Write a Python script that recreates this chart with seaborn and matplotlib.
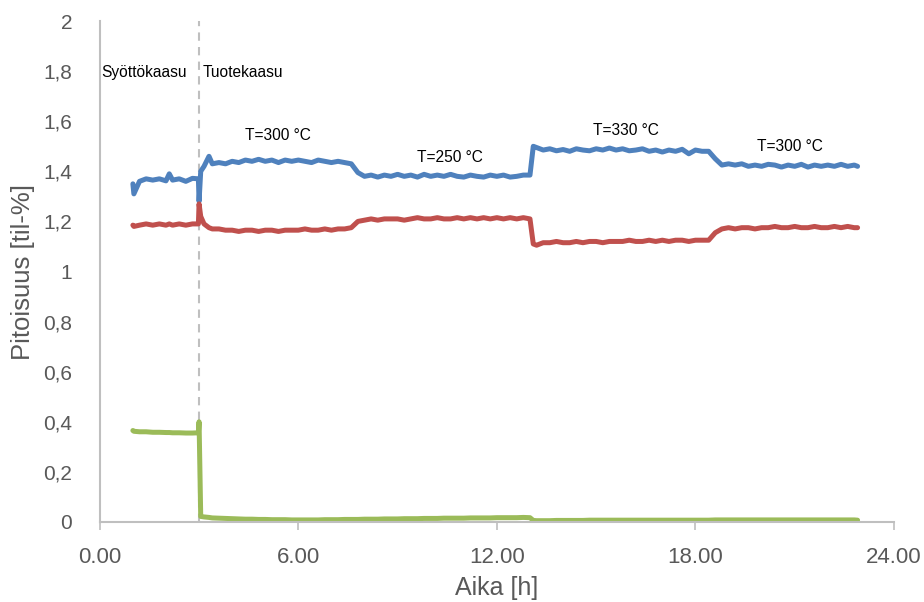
import matplotlib
matplotlib.use('Agg')
import matplotlib.pyplot as plt
import seaborn as sns
import pandas as pd

# Measurement times [h]
t = [1.0, 1.03,
     1.2, 1.4, 1.6, 1.8, 2.0, 2.1, 2.2, 2.4, 2.6, 2.8,
     2.98, 3.0, 3.05, 3.15, 3.3,
     3.4, 3.6, 3.8, 4.0, 4.2, 4.4, 4.6, 4.8, 5.0, 5.2, 5.4, 5.6, 5.8, 6.0, 6.2, 6.4, 6.6, 6.8, 7.0, 7.2, 7.4,
     7.6, 7.8, 8.0, 8.2, 8.4, 8.6, 8.8, 9.0, 9.2, 9.4, 9.6, 9.8, 10.0, 10.2, 10.4, 10.6, 10.8, 11.0, 11.2, 11.4,
     11.6, 11.8, 12.0, 12.2, 12.4, 12.6, 12.8, 13.0,
     13.1, 13.2, 13.4, 13.6, 13.8, 14.0, 14.2, 14.4, 14.6, 14.8, 15.0, 15.2, 15.4, 15.6, 15.8, 16.0, 16.2, 16.4,
     16.6, 16.8, 17.0, 17.2, 17.4, 17.6, 17.8, 18.0, 18.2, 18.4,
     18.6, 18.8, 19.0, 19.2, 19.4, 19.6, 19.8, 20.0, 20.2, 20.4, 20.6, 20.8, 21.0, 21.2, 21.4, 21.6, 21.8, 22.0,
     22.2, 22.4, 22.6, 22.8, 22.9]

blue = [1.35, 1.31,
        1.36, 1.37, 1.365, 1.37, 1.362, 1.39, 1.365, 1.37, 1.36, 1.372,
        1.37, 1.28, 1.40, 1.42, 1.46,
        1.43, 1.435, 1.43, 1.44, 1.435, 1.445, 1.44, 1.448, 1.44, 1.445, 1.435, 1.445, 1.44, 1.445, 1.44, 1.435,
        1.445, 1.44, 1.435, 1.44, 1.435,
        1.43, 1.395, 1.38, 1.385, 1.377, 1.385, 1.38, 1.388, 1.38, 1.385, 1.377, 1.388, 1.38, 1.385, 1.38, 1.388,
        1.38, 1.377, 1.385, 1.38, 1.377, 1.385, 1.38, 1.385, 1.377, 1.38, 1.385, 1.385,
        1.50, 1.495, 1.485, 1.49, 1.482, 1.487, 1.48, 1.49, 1.485, 1.482, 1.49, 1.485, 1.493, 1.485, 1.49, 1.482,
        1.485, 1.49, 1.48, 1.485, 1.477, 1.485, 1.48, 1.488, 1.47, 1.485, 1.48, 1.48,
        1.45, 1.425, 1.43, 1.425, 1.43, 1.42, 1.425, 1.42, 1.428, 1.425, 1.417, 1.425, 1.42, 1.428, 1.417, 1.425,
        1.42, 1.425, 1.42, 1.428, 1.42, 1.425, 1.42]

red = [1.185, 1.18,
       1.185, 1.19, 1.185, 1.19, 1.185, 1.19, 1.185, 1.19, 1.185, 1.19,
       1.19, 1.27, 1.22, 1.19, 1.175,
       1.17, 1.17, 1.165, 1.165, 1.16, 1.165, 1.165, 1.16, 1.165, 1.165, 1.16, 1.165, 1.165, 1.165, 1.17,
       1.165, 1.165, 1.17, 1.165, 1.17, 1.17,
       1.175, 1.20, 1.205, 1.21, 1.205, 1.21, 1.21, 1.21, 1.205, 1.21, 1.215, 1.21, 1.21, 1.215, 1.21, 1.21,
       1.215, 1.21, 1.215, 1.21, 1.215, 1.21, 1.215, 1.21, 1.215, 1.21, 1.215, 1.21,
       1.11, 1.105, 1.115, 1.115, 1.12, 1.115, 1.115, 1.12, 1.115, 1.12, 1.12, 1.115, 1.12, 1.12, 1.12, 1.125,
       1.12, 1.12, 1.125, 1.12, 1.125, 1.12, 1.125, 1.125, 1.12, 1.125, 1.125, 1.125,
       1.155, 1.17, 1.175, 1.17, 1.175, 1.175, 1.17, 1.175, 1.175, 1.18, 1.175, 1.175, 1.18, 1.175, 1.175,
       1.18, 1.175, 1.175, 1.18, 1.175, 1.18, 1.175, 1.175]

green = [0.365, 0.362,
         0.36, 0.36, 0.358, 0.358, 0.357, 0.357, 0.356, 0.356, 0.355, 0.355,
         0.356, 0.40, 0.022, 0.02, 0.018,
         0.016, 0.015, 0.014, 0.013, 0.012, 0.011, 0.011, 0.010, 0.010, 0.009, 0.009, 0.009, 0.008, 0.008,
         0.008, 0.008, 0.008, 0.009, 0.009, 0.009, 0.010,
         0.010, 0.010, 0.011, 0.011, 0.011, 0.012, 0.012, 0.012, 0.013, 0.013, 0.013, 0.014, 0.014, 0.014,
         0.015, 0.015, 0.015, 0.015, 0.016, 0.016, 0.016, 0.016, 0.017, 0.017, 0.017, 0.017, 0.018, 0.017,
         0.006, 0.005, 0.005, 0.005, 0.006, 0.006, 0.006, 0.006, 0.006, 0.007, 0.007, 0.007, 0.007, 0.007,
         0.007, 0.007, 0.007, 0.007, 0.007, 0.007, 0.007, 0.007, 0.007, 0.007, 0.007, 0.007, 0.007, 0.007,
         0.008, 0.008, 0.008, 0.008, 0.008, 0.008, 0.008, 0.008, 0.008, 0.008, 0.008, 0.008, 0.008, 0.008,
         0.008, 0.008, 0.008, 0.008, 0.008, 0.008, 0.008, 0.008, 0.007]

x_ticks = [0, 6, 12, 18, 24]
x_tick_labels = ['0.00', '6.00', '12.00', '18.00', '24.00']
y_ticks = [0, 0.2, 0.4, 0.6, 0.8, 1.0, 1.2, 1.4, 1.6, 1.8, 2.0]
y_tick_labels = ['0', '0,2', '0,4', '0,6', '0,8', '1', '1,2', '1,4', '1,6', '1,8', '2']

feed_switch = 3.0
phase_labels = ['Syöttökaasu', 'Tuotekaasu']
temp_labels = ['T=300 °C', 'T=250 °C', 'T=330 °C', 'T=300 °C']
temp_label_pos = [(5.38, 1.545), (10.57, 1.457), (15.9, 1.565), (20.85, 1.50)]

df = pd.DataFrame({'t': t, 'blue': blue, 'red': red, 'green': green})

sns.set_style('white')
plt.rcParams['font.family'] = ['Liberation Sans', 'DejaVu Sans']

fig = plt.figure(figsize=(9.24, 6.02), dpi=100)
ax = fig.add_axes([0.108, 0.133, 0.8595, 0.832])

for col, color in [('blue', '#4F81BD'), ('red', '#C0504D'), ('green', '#9BBB59')]:
    sns.lineplot(data=df, x='t', y=col, ax=ax, color=color, linewidth=3.6,
                 estimator=None, sort=False)

ax.axvline(feed_switch, color='#BFBFBF', linestyle=(0, (4, 3)), linewidth=1.5, zorder=0)

ax.set_xlim(0, 24)
ax.set_ylim(0, 2)
ax.set_xticks(x_ticks)
ax.set_xticklabels(x_tick_labels)
ax.set_yticks(y_ticks)
ax.set_yticklabels(y_tick_labels)

gray_txt = '#595959'
ax.tick_params(axis='x', labelsize=16, colors=gray_txt, length=6, width=1.2,
               direction='out', color='#BFBFBF', pad=12, bottom=True)
ax.tick_params(axis='y', labelsize=15, colors=gray_txt, length=0, pad=20)

for side in ['top', 'right']:
    ax.spines[side].set_visible(False)
for side in ['left', 'bottom']:
    ax.spines[side].set_color('#BFBFBF')
    ax.spines[side].set_linewidth(1.5)

ax.set_xlabel('Aika [h]', fontsize=18, color=gray_txt, labelpad=6)
ax.set_ylabel('Pitoisuus [til-%]', fontsize=18.5, color=gray_txt, labelpad=6)

ax.text(0.03, 1.796, phase_labels[0], fontsize=11.2, ha='left', va='center', color='black')
ax.text(3.11, 1.796, phase_labels[1], fontsize=11.2, ha='left', va='center', color='black')
for label, (lx, ly) in zip(temp_labels, temp_label_pos):
    ax.text(lx, ly, label, fontsize=11.2, ha='center', va='center', color='black')

fig.savefig('out.png', dpi=100)
